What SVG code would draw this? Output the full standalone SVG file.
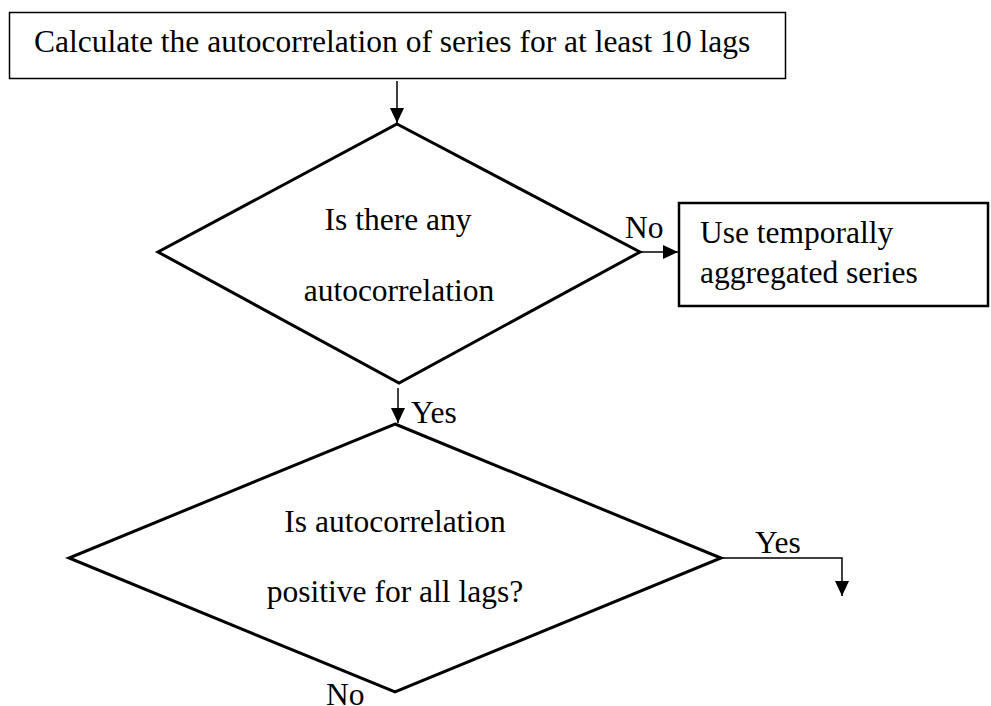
<svg xmlns="http://www.w3.org/2000/svg" width="991" height="706" viewBox="0 0 991 706">
<style>
.box{fill:#fff;stroke:#000}
.dia{fill:#fff;stroke:#000;stroke-width:3}
.ln{fill:none;stroke:#000;stroke-width:1.5}
</style>
<defs>
<marker id="ah" markerWidth="15" markerHeight="14" viewBox="0 0 15 14" refX="15" refY="7" orient="auto" markerUnits="userSpaceOnUse">
<path d="M0,0 L15,7 L0,14 Z" fill="#000"/>
</marker>
</defs>
<g font-family="Liberation Serif, serif" font-size="31.5" fill="#000">
<g id="start">
<rect class="box" x="9.5" y="12.5" width="776" height="66" stroke-width="1.5"/>
<text x="34" y="52">Calculate the autocorrelation of series for at least 10 lags</text>
</g>
<g id="decision1">
<polygon class="dia" points="397,124 640,252 399,383 158,252"/>
<text x="398" y="230" text-anchor="middle">Is there any</text>
<text x="399" y="301" text-anchor="middle">autocorrelation</text>
</g>
<g id="aggregate">
<rect class="box" x="679" y="203" width="309" height="103" stroke-width="2.5"/>
<text x="700" y="243">Use temporally</text>
<text x="700" y="283">aggregated series</text>
</g>
<g id="decision2">
<polygon class="dia" points="395,424 721,558 395,692 69,558"/>
<text x="395" y="532" text-anchor="middle">Is autocorrelation</text>
<text x="395" y="602" text-anchor="middle">positive for all lags?</text>
</g>
<g id="connectors">
<line class="ln" x1="397" y1="81" x2="397" y2="123" marker-end="url(#ah)"/>
<line class="ln" x1="640" y1="252" x2="678" y2="252" marker-end="url(#ah)"/>
<line class="ln" x1="398" y1="388" x2="398" y2="423" marker-end="url(#ah)"/>
<polyline class="ln" points="721,558 842,558 842,596" marker-end="url(#ah)"/>
<text x="625" y="238">No</text>
<text x="411" y="423">Yes</text>
<text x="755" y="553">Yes</text>
<text x="326" y="705">No</text>
</g>
</g>
</svg>
